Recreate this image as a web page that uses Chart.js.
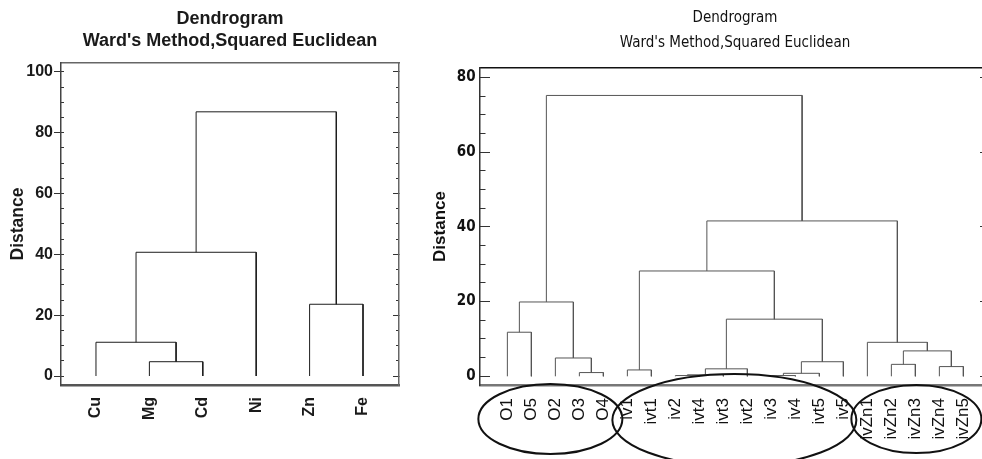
<!DOCTYPE html>
<html>
<head>
<meta charset="utf-8">
<title>Dendrogram</title>
<script src="https://cdn.jsdelivr.net/npm/chart.js@4.4.1/dist/chart.umd.min.js"></script>
<style>
  html, body { margin: 0; padding: 0; background: #fff; overflow: hidden; }
  #wrap { position: relative; width: 982px; height: 459px; overflow: hidden; }
  #leftChart { position: absolute; left: 0; top: 0; }
  #rightChart { position: absolute; left: 430px; top: 0; }
</style>
</head>
<body>
<div id="wrap">
  <canvas id="leftChart" width="430" height="459"></canvas>
  <canvas id="rightChart" width="570" height="459"></canvas>
</div>
<script>
// left panel: metals, merges as (cluster a, cluster b, distance); ids >= leaves.length are earlier merges
const leftLeaves = ['Cu', 'Mg', 'Cd', 'Ni', 'Zn', 'Fe']
const leftMergeA = [1, 0, 4, 7, 9]
const leftMergeB = [2, 6, 5, 3, 8]
const leftHeights = [4.7, 11.1, 23.6, 40.7, 86.9]
const leftTicks = [0, 20, 40, 60, 80, 100]

// right panel: samples
const rightLeaves = ['O1', 'O5', 'O2', 'O3', 'O4', 'iv1', 'ivt1', 'iv2', 'ivt4', 'ivt3', 'ivt2',
  'iv3', 'iv4', 'ivt5', 'iv5', 'ivZn1', 'ivZn2', 'ivZn3', 'ivZn4', 'ivZn5']
const rightMergeA = [0, 3, 2, 20, 5, 7, 25, 26, 11, 28, 29, 27, 24, 16, 18, 33, 15, 32, 23]
const rightMergeB = [1, 4, 21, 22, 6, 8, 9, 10, 12, 13, 14, 30, 31, 17, 19, 34, 35, 36, 37]
const rightHeights = [11.8, 1.0, 4.9, 19.9, 1.7, 0.2, 0.4, 2.0, 0.2, 0.8, 3.9, 15.3, 28.2, 3.2, 2.6, 6.8, 9.1, 41.6, 75.2]
const rightTicks = [0, 20, 40, 60, 80]

// circled sample groups (first leaf, last leaf)
const groupStart = [0, 5, 15]
const groupEnd = [4, 14, 19]

const sans = "'Liberation Sans', Arial, sans-serif"
const narrow = "'Liberation Sans Narrow', 'DejaVu Sans Condensed', 'Liberation Sans', sans-serif"

// turn the merge table into U-shaped links
const buildLinks = (n, mergeA, mergeB, heights) => {
    const pos = []
    const lvl = []
    for (let i = 0; i < n; i++) {
        pos.push(i)
        lvl.push(0)
    }
    return heights.map((h, k) => {
        const a = mergeA[k]
        const b = mergeB[k]
        pos.push((pos[a] + pos[b]) / 2)
        lvl.push(h)
        return [
            { x: pos[a], y: lvl[a] },
            { x: pos[a], y: h },
            { x: pos[b], y: h },
            { x: pos[b], y: lvl[b] }
        ]
    })
}

const groupRings = {
    id: 'groupRings',
    afterDraw(chart) {
        const xs = chart.scales.x
        const bottom = chart.chartArea.bottom
        const ctx = chart.ctx
        const shift = [-5, -1, 1]
        const pad = [24, 14, 17]
        const drop = [34, 35, 34]
        const ry = [35, 46, 34]
        ctx.save()
        ctx.strokeStyle = '#111'
        ctx.lineWidth = 2
        groupStart.forEach((s, i) => {
            const x0 = xs.getPixelForValue(s)
            const x1 = xs.getPixelForValue(groupEnd[i])
            ctx.beginPath()
            ctx.ellipse((x0 + x1) / 2 + shift[i], bottom + drop[i], (x1 - x0) / 2 + pad[i], ry[i], 0, 0, Math.PI * 2)
            ctx.stroke()
        })
        ctx.restore()
    }
}

const makeDendrogram = (canvasId, opt) => {
    const links = buildLinks(opt.leaves.length, opt.mergeA, opt.mergeB, opt.heights)

    // frame tick marks, a negative tickLength points them into the plot
    const tickAxis = (position, step, length, weight, border) => ({
        type: 'linear',
        position,
        weight,
        min: opt.yMin,
        max: opt.yMax,
        ticks: { display: false, stepSize: step, includeBounds: false },
        grid: { display: true, drawOnChartArea: false, drawTicks: true, tickLength: length, tickColor: opt.tickColor, tickWidth: 1 },
        border: border ? { display: true, color: border.color, width: border.width } : { display: false },
        afterFit: (scale) => { scale.width = 0 }
    })

    return new Chart(document.getElementById(canvasId), {
        type: 'scatter',
        data: {
            datasets: links.map(data => ({
                data,
                showLine: true,
                borderColor: opt.lineColor,
                borderWidth: opt.lineWidth,
                pointRadius: 0,
                pointHoverRadius: 0,
                fill: false,
                tension: 0
            }))
        },
        options: {
            responsive: false,
            animation: false,
            devicePixelRatio: 1,
            events: [],
            layout: { padding: { left: 0, top: 0, bottom: 0, right: opt.padRight } },
            plugins: {
                legend: { display: false },
                tooltip: { enabled: false },
                title: {
                    display: true,
                    fullSize: false,
                    text: opt.title,
                    color: opt.textColor,
                    font: opt.titleFont,
                    padding: opt.titlePad
                }
            },
            scales: {
                x: {
                    type: 'linear',
                    position: 'bottom',
                    min: opt.xMin,
                    max: opt.xMax,
                    afterBuildTicks: (scale) => { scale.ticks = opt.leaves.map((_, i) => ({ value: i })) },
                    ticks: {
                        autoSkip: false,
                        minRotation: 90,
                        maxRotation: 90,
                        padding: opt.xPad,
                        color: opt.textColor,
                        font: opt.xFont,
                        callback: (value) => opt.leaves[value]
                    },
                    grid: { display: false, drawTicks: false },
                    border: { display: true, color: opt.bottomBorder.color, width: opt.bottomBorder.width },
                    afterFit: (scale) => { scale.height = opt.xHeight }
                },
                xTop: {
                    type: 'linear',
                    position: 'top',
                    min: opt.xMin,
                    max: opt.xMax,
                    ticks: { display: false },
                    grid: { display: false, drawTicks: false },
                    border: { display: true, color: opt.topBorder.color, width: opt.topBorder.width },
                    afterFit: (scale) => { scale.height = 0 }
                },
                y: {
                    type: 'linear',
                    position: 'left',
                    weight: 2,
                    min: opt.yMin,
                    max: opt.yMax,
                    afterBuildTicks: (scale) => { scale.ticks = opt.yTicks.map(v => ({ value: v })) },
                    ticks: { autoSkip: false, padding: opt.yPad, color: opt.textColor, font: opt.yFont },
                    grid: { display: true, drawOnChartArea: false, drawTicks: true, tickLength: opt.majorLen, tickColor: opt.tickColor, tickWidth: 1 },
                    border: { display: true, color: opt.leftBorder.color, width: opt.leftBorder.width },
                    title: {
                        display: true,
                        text: 'Distance',
                        color: opt.textColor,
                        font: opt.yTitleFont,
                        padding: { top: opt.yTitlePad, bottom: 0 }
                    },
                    afterFit: (scale) => { scale.width = opt.yWidth }
                },
                yMinor: tickAxis('left', 5, opt.minorLen, 1, null),
                yRight: tickAxis('right', 20, opt.rightMajorLen, 0, opt.rightBorder),
                yRightMinor: tickAxis('right', 5, opt.minorLen, 1, null)
            }
        },
        plugins: opt.extraPlugins || []
    })
}

makeDendrogram('leftChart', {
    leaves: leftLeaves,
    mergeA: leftMergeA,
    mergeB: leftMergeB,
    heights: leftHeights,
    yTicks: leftTicks,
    xMin: -0.655,
    xMax: 5.674,
    yMin: -2.96,
    yMax: 102.96,
    yWidth: 61,
    padRight: 31,
    xHeight: 74,
    xPad: 12,
    yPad: 1,
    majorLen: 7,
    minorLen: -3,
    rightMajorLen: -6,
    title: ['Dendrogram', "Ward's Method,Squared Euclidean"],
    titleFont: { family: sans, size: 18, weight: 'bold', lineHeight: '22px' },
    titlePad: { top: 8, bottom: 11 },
    xFont: { family: sans, size: 16, weight: 'bold' },
    yFont: { family: sans, size: 16, weight: 'bold' },
    yTitleFont: { family: sans, size: 17.5, weight: 'bold', lineHeight: 1.2 },
    yTitlePad: 7.8,
    textColor: '#1a1a1a',
    tickColor: '#333',
    lineColor: '#1c1c1c',
    lineWidth: 1,
    leftBorder: { color: '#444', width: 1.5 },
    rightBorder: { color: '#666', width: 1.5 },
    topBorder: { color: '#666', width: 1.5 },
    bottomBorder: { color: '#555', width: 2.5 }
})

makeDendrogram('rightChart', {
    leaves: rightLeaves,
    mergeA: rightMergeA,
    mergeB: rightMergeB,
    heights: rightHeights,
    yTicks: rightTicks,
    xMin: -1.14,
    xMax: 20.11,
    yMin: -2.33,
    yMax: 82.55,
    yWidth: 50,
    padRight: 10,
    xHeight: 74,
    xPad: 13,
    yPad: 14.4,
    majorLen: -10,
    minorLen: -5.5,
    rightMajorLen: -10,
    title: ['Dendrogram', "Ward's Method,Squared Euclidean"],
    titleFont: { family: narrow, size: 15, weight: 'normal', lineHeight: '25px' },
    titlePad: { top: 5.5, bottom: 12.5 },
    xFont: { family: sans, size: 17, weight: 'normal' },
    yFont: { family: narrow, size: 15, weight: 'bold' },
    yTitleFont: { family: sans, size: 17, weight: 'bold', lineHeight: 1.2 },
    yTitlePad: 0,
    textColor: '#111',
    tickColor: '#333',
    lineColor: '#555',
    lineWidth: 1,
    leftBorder: { color: '#333', width: 1.5 },
    rightBorder: { color: '#333', width: 1.5 },
    topBorder: { color: '#111', width: 1.5 },
    bottomBorder: { color: '#777', width: 2.5 },
    extraPlugins: [groupRings]
})
</script>
</body>
</html>
